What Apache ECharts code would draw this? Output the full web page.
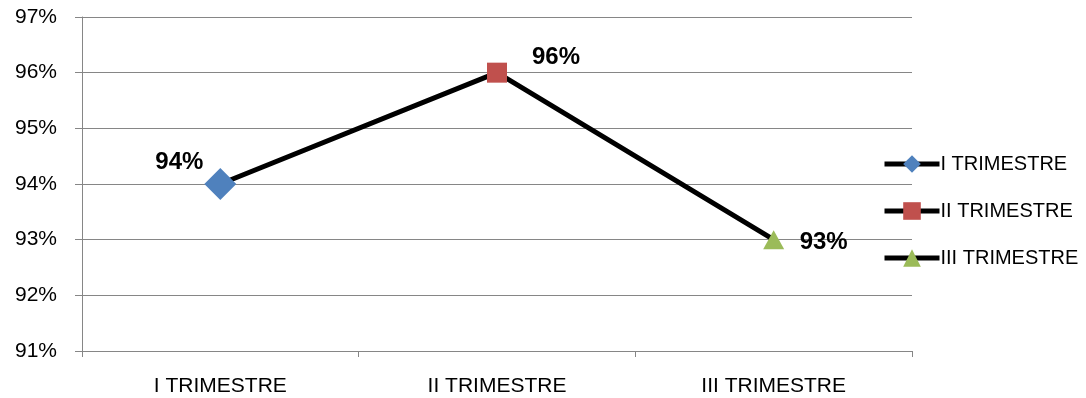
<!DOCTYPE html>
<html>
<head>
<meta charset="utf-8">
<script src="https://cdn.jsdelivr.net/npm/echarts@6/dist/echarts.min.js"></script>
<style>
  html, body { margin: 0; padding: 0; background: #fff; }
  #chart { width: 1086px; height: 398px; }
</style>
</head>
<body>
<div id="chart"></div>
<script>
// Quarterly percentages
const categories = ['I TRIMESTRE', 'II TRIMESTRE', 'III TRIMESTRE'];
const values = [94, 96, 93];
const markerShapes = ['diamond', 'rect', 'triangle'];
const markerColors = ['#4F81BD', '#C0504D', '#9BBB59'];
const markerSizes = [32, 20, [21, 19]];
const labelOffsets = [[-41, -22], [59, -15], [50, 3]];

const FONT = 'Liberation Sans';
const GRID_GRAY = '#868686';

// One series per quarter: only its own point is set, so each draws its marker + label
const pointSeries = categories.map((name, i) => ({
  name: name,
  type: 'line',
  data: values.map((v, j) => (j === i ? v : null)),
  symbol: markerShapes[i],
  symbolSize: markerSizes[i],
  itemStyle: { color: markerColors[i] },
  lineStyle: { color: '#000', width: 5 },
  z: 3,
  label: {
    show: true,
    position: 'inside',
    offset: labelOffsets[i],
    formatter: '{c}%',
    color: '#000',
    fontFamily: FONT,
    fontWeight: 'bold',
    fontSize: 24
  }
}));

const chart = echarts.init(document.getElementById('chart'));
chart.setOption({
  animation: false,
  grid: { left: 82, right: 174, top: 17, bottom: 47 },
  legend: {
    orient: 'vertical',
    left: 877,
    top: 149,
    itemWidth: 55,
    itemHeight: 22,
    itemGap: 27,
    data: categories,
    lineStyle: { width: 5, color: '#000' },
    textStyle: { fontFamily: FONT, fontSize: 20, color: '#000', padding: [0, 0, 0, -4] }
  },
  xAxis: {
    type: 'category',
    data: categories,
    boundaryGap: true,
    axisLine: { lineStyle: { color: GRID_GRAY, width: 1 } },
    axisTick: { show: true, length: 6, lineStyle: { color: GRID_GRAY } },
    axisLabel: { margin: 25, color: '#000', fontFamily: FONT, fontSize: 21 },
    splitLine: { show: false }
  },
  yAxis: {
    type: 'value',
    min: 91,
    max: 97,
    interval: 1,
    axisLine: { show: true, lineStyle: { color: GRID_GRAY, width: 1 } },
    axisTick: { show: true, length: 7, lineStyle: { color: GRID_GRAY } },
    axisLabel: { formatter: '{value}%', margin: 25, color: '#000', fontFamily: FONT, fontSize: 21 },
    splitLine: { show: true, lineStyle: { color: GRID_GRAY, width: 1 } }
  },
  series: [
    {
      name: 'line',
      type: 'line',
      data: values,
      symbol: 'none',
      lineStyle: { color: '#000', width: 5 },
      z: 2
    }
  ].concat(pointSeries)
});
</script>
</body>
</html>
